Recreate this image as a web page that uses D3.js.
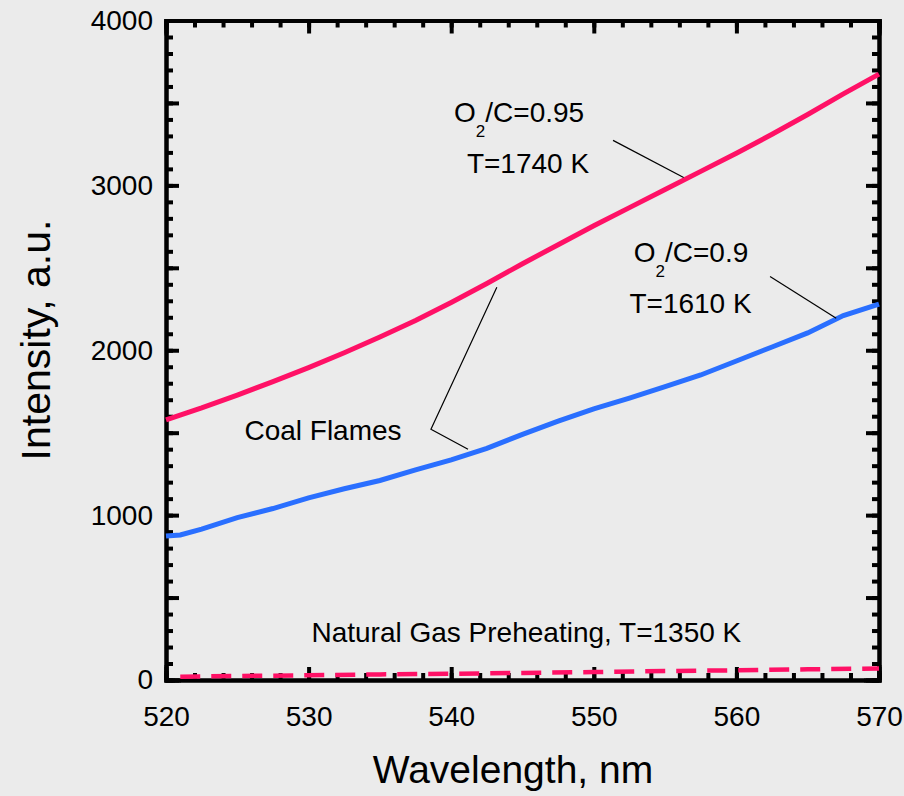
<!DOCTYPE html>
<html>
<head>
<meta charset="utf-8">
<script src="https://cdn.jsdelivr.net/npm/d3@7"></script>
<style>
  html, body { margin: 0; padding: 0; background: #ebebeb; }
  svg { display: block; font-family: "Liberation Sans", Arial, sans-serif; }
  .axis path, .axis line { stroke: #000; stroke-width: 4; }
  .axis text { font-size: 28px; fill: #000; }
</style>
</head>
<body>
<div id="chart"></div>
<script>
// Coal flame O2/C=0.95, T=1740 K
const wlHigh = [520, 522.5, 525, 527.5, 530, 532.5, 535, 537.5, 540, 542.5, 545, 547.5, 550, 552.5, 555, 557.5, 560, 562.5, 565, 567.5, 570];
const intHigh = [1578, 1650, 1728, 1810, 1895, 1985, 2080, 2180, 2290, 2405, 2525, 2640, 2755, 2865, 2975, 3085, 3195, 3310, 3430, 3555, 3675];

// Coal flame O2/C=0.9, T=1610 K
const wlLow = [520, 521, 522.5, 525, 527.5, 530, 532.5, 535, 537.5, 540, 542.5, 545, 547.5, 550, 552.5, 555, 557.5, 560, 562.5, 565, 567.5, 570];
const intLow = [873, 880, 915, 985, 1040, 1105, 1160, 1210, 1275, 1335, 1405, 1490, 1570, 1645, 1710, 1780, 1850, 1935, 2020, 2105, 2210, 2280];

// Natural gas preheating, T=1350 K
const wlGas = [521, 525, 530, 535, 540, 545, 550, 555, 560, 565, 570];
const intGas = [20, 24, 29, 34, 38, 43, 48, 54, 59, 65, 70];

const xMajorTicks = [520, 530, 540, 550, 560, 570];
const yLabelTicks = [0, 1000, 2000, 3000, 4000];

const W = 904, H = 796;
const margin = {top: 20.5, right: 25, bottom: 116, left: 166};
const width = W - margin.left - margin.right;
const height = H - margin.top - margin.bottom;

const svg = d3.select('#chart').append('svg')
    .attr('width', W)
    .attr('height', H);
const g = svg.append('g')
    .attr('transform', `translate(${margin.left},${margin.top})`);

const x = d3.scaleLinear().domain([520, 570]).range([0, width]);
const y = d3.scaleLinear().domain([0, 4000]).range([height, 0]);

const xMinor = d3.range(520, 571, 2);
const yMinor = d3.range(0, 4001, 100);
const yMajor = d3.range(0, 4001, 500);

// Minor ticks, all four sides, pointing in.
g.append('g').attr('class', 'axis').attr('transform', `translate(0,${height})`)
    .call(d3.axisBottom(x).tickValues(xMinor).tickSize(-7).tickFormat(''));
g.append('g').attr('class', 'axis')
    .call(d3.axisTop(x).tickValues(xMinor).tickSize(-7).tickFormat(''));
g.append('g').attr('class', 'axis')
    .call(d3.axisLeft(y).tickValues(yMinor).tickSize(-7).tickFormat(''));
g.append('g').attr('class', 'axis').attr('transform', `translate(${width},0)`)
    .call(d3.axisRight(y).tickValues(yMinor).tickSize(-7).tickFormat(''));

// Major ticks with labels.
g.append('g').attr('class', 'axis').attr('transform', `translate(0,${height})`)
    .call(d3.axisBottom(x).tickValues(xMajorTicks).tickSize(-13).tickPadding(26).tickFormat(d3.format('d')));
g.append('g').attr('class', 'axis')
    .call(d3.axisTop(x).tickValues(xMajorTicks).tickSize(-13).tickFormat(''));
g.append('g').attr('class', 'axis')
    .call(d3.axisLeft(y).tickValues(yMajor).tickSize(-13).tickPadding(13)
        .tickFormat(d => yLabelTicks.includes(d) ? d : ''));
g.append('g').attr('class', 'axis').attr('transform', `translate(${width},0)`)
    .call(d3.axisRight(y).tickValues(yMajor).tickSize(-13).tickFormat(''));

g.selectAll('.axis path').attr('stroke-linecap', 'square');

// Axis titles.
svg.append('text')
    .attr('x', 513).attr('y', 783)
    .attr('text-anchor', 'middle')
    .style('font-size', '39px')
    .text('Wavelength, nm');
svg.append('text')
    .attr('transform', 'translate(50,340)rotate(-90)')
    .attr('text-anchor', 'middle')
    .style('font-size', '41px')
    .text('Intensity, a.u.');

// Series.
const line = d3.line().x(d => x(d[0])).y(d => y(d[1]));
g.append('path')
    .datum(d3.zip(wlGas, intGas))
    .attr('fill', 'none')
    .attr('stroke', '#ff1166')
    .attr('stroke-width', 4.5)
    .attr('stroke-dasharray', '20,11')
    .attr('d', line);
g.append('path')
    .datum(d3.zip(wlLow, intLow))
    .attr('fill', 'none')
    .attr('stroke', '#2a6fff')
    .attr('stroke-width', 5)
    .attr('d', line);
g.append('path')
    .datum(d3.zip(wlHigh, intHigh))
    .attr('fill', 'none')
    .attr('stroke', '#ff1166')
    .attr('stroke-width', 5)
    .attr('d', line);

// Leader lines.
const leader = (pts) => g.append('path')
    .attr('fill', 'none')
    .attr('stroke', '#000')
    .attr('stroke-width', 1.2)
    .attr('d', line(pts));
leader([[551.35, 3273], [556.3, 3048]]);
leader([[562.36, 2448], [567.0, 2194]]);
leader([[543.2, 2382], [538.58, 1521], [541.18, 1400]]);

// Annotations.
const label = (wl, v, txt) => g.append('text')
    .attr('x', x(wl)).attr('y', y(v))
    .style('font-size', '28px')
    .text(txt);
const sub = (wl, v, rest) => {
    const t = g.append('text')
        .attr('x', x(wl)).attr('y', y(v))
        .style('font-size', '28px');
    t.append('tspan').text('O');
    t.append('tspan').attr('dy', 15).style('font-size', '17px').text('2');
    t.append('tspan').attr('dy', -15).text(rest);
};
sub(540.2, 3384, '/C=0.95');
label(541.1, 3076, 'T=1740 K');
sub(552.8, 2535, '/C=0.9');
label(552.5, 2227, 'T=1610 K');
label(525.5, 1455, 'Coal Flames');
label(530.2, 230, 'Natural Gas Preheating, T=1350 K');
</script>
</body>
</html>
